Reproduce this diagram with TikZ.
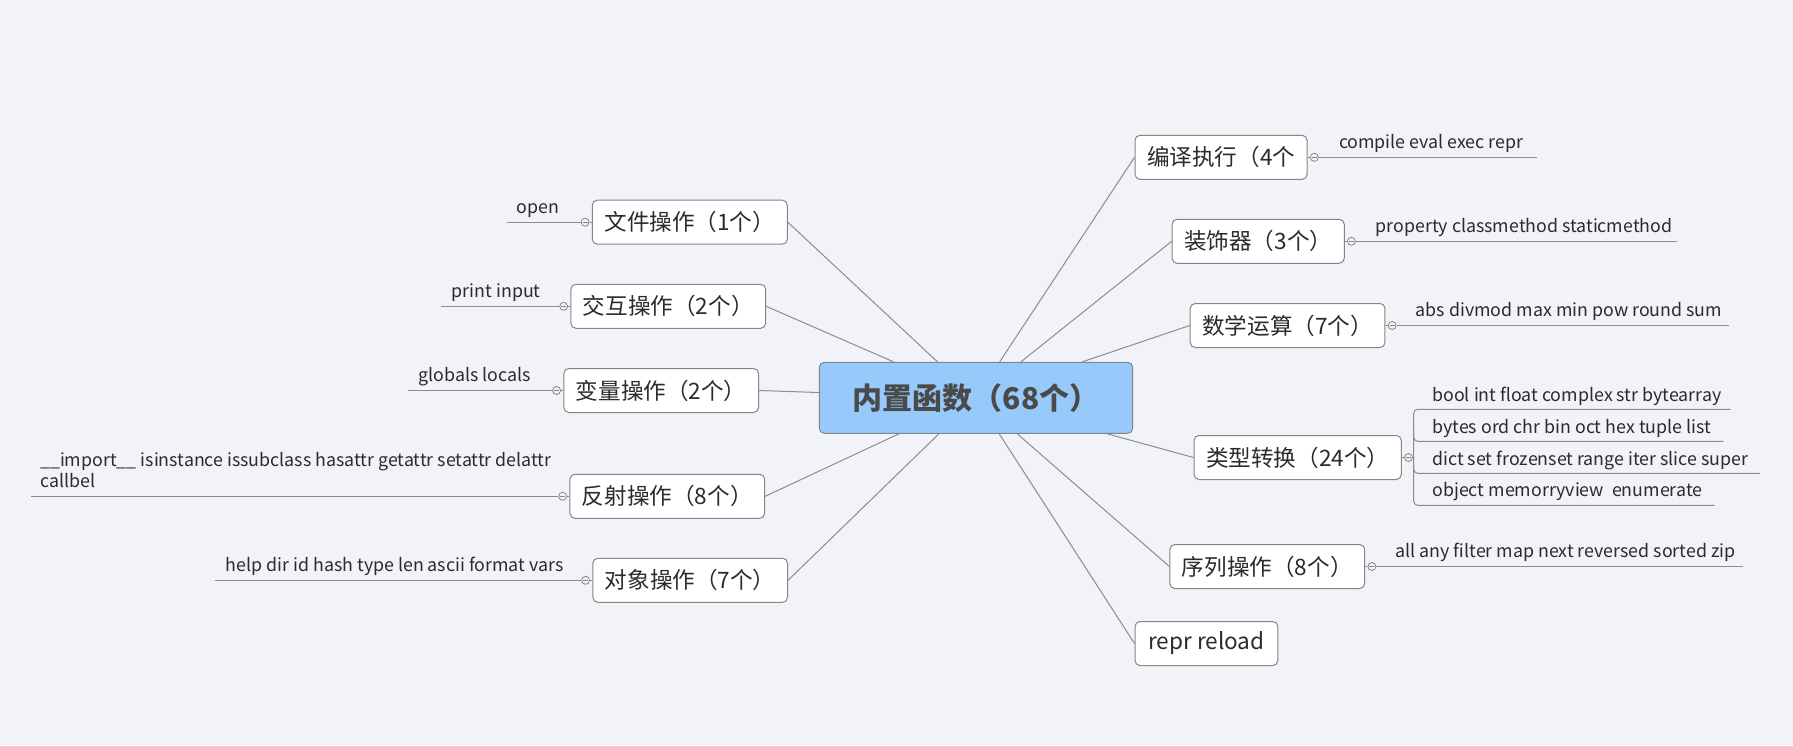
\documentclass[tikz,border=0pt]{standalone}
\usepackage{fontspec}
\setmainfont{Noto Sans CJK SC}
\definecolor{bg}{HTML}{F2F3F8}
\definecolor{edge}{HTML}{8C8C8C}
\definecolor{frame}{HTML}{858585}
\definecolor{hubfill}{HTML}{97C9FB}
\definecolor{ink}{HTML}{2B2B2B}
\definecolor{hubink}{HTML}{4A4A4A}
\begin{document}
\begin{tikzpicture}[x=0.5pt,y=-0.5pt,
  hub/.style={draw=frame, fill=hubfill, rounded corners=2.5pt, line width=0.5pt,
    minimum width=156.7pt, minimum height=35.5pt, inner sep=0pt,
    font=\fontsize{15}{18}\selectfont\bfseries, text=hubink},
  topic/.style={draw=frame, fill=white, rounded corners=2.5pt, line width=0.5pt,
    minimum height=22pt, inner xsep=6pt, inner ysep=0pt, anchor=west,
    font=\fontsize{11.3}{13}\selectfont, text=ink},
  leaf/.style={anchor=base west, inner sep=0pt, text=ink,
    font=\fontsize{8.9}{10.6}\selectfont},
  knob/.style={circle, draw=frame, fill=bg, line width=0.4pt, minimum size=4pt,
    inner sep=0pt,
    path picture={\draw[frame, line width=0.4pt]
      ([xshift=-1.3pt]path picture bounding box.center) --
      ([xshift=1.3pt]path picture bounding box.center);}},
  link/.style={draw=edge, line width=0.5pt}
]
\fill[bg] (0,0) rectangle (1793,745);
\useasboundingbox (0,0) rectangle (1793,745);

% central topic
\node[hub] (hub) at (976,397.8) {内置函数（68个）};

% left branches
\node[topic, minimum width=97.5pt] (f1) at (591.8,222.2) {文件操作（1个）};
\node[topic, minimum width=96.7pt] (f2) at (570.4,306.3) {交互操作（2个）};
\node[topic, minimum width=97.2pt] (f3) at (563.3,390.5) {变量操作（2个）};
\node[topic, minimum width=97pt]   (f4) at (569.4,496.3) {反射操作（8个）};
\node[topic, minimum width=97.2pt] (f5) at (592.3,580.3) {对象操作（7个）};

% right branches
\node[topic, minimum width=86pt]   (g1) at (1134.5,157.3) {编译执行（4个};
\node[topic, minimum width=86pt]   (g2) at (1171.6,241.3) {装饰器（3个）};
\node[topic, minimum width=96.8pt] (g3) at (1189.7,325.5) {数学运算（7个）};
\node[topic, minimum width=103.5pt](g4) at (1193.5,457.5) {类型转换（24个）};
\node[topic, minimum width=97pt]   (g5) at (1169.4,566.5) {序列操作（8个）};
\node[topic, minimum width=71.4pt] (g6) at (1134.5,643.5) {repr reload};

% branch connectors
\foreach \n in {f1,f2,f3,f4,f5} \draw[link] (\n.east) -- (hub);
\foreach \n in {g1,g2,g3,g4,g5,g6} \draw[link] (\n.west) -- (hub);

% collapse knobs
\foreach \n in {f1,f2,f3,f4,f5} \node[knob] (k\n) at ([xshift=-3.35pt]\n.west) {};
\foreach \n in {g1,g2,g3,g4,g5} \node[knob] (k\n) at ([xshift=3.35pt]\n.east) {};

% free ends of leaf underlines
\coordinate (ef1) at (506.6,222.2);
\coordinate (ef2) at (441,306.3);
\coordinate (ef3) at (408,390.5);
\coordinate (ef4) at (30.6,496.3);
\coordinate (ef5) at (215.3,580.3);
\coordinate (eg1) at (1536.6,157.3);
\coordinate (eg2) at (1676.7,241.3);
\coordinate (eg3) at (1728.8,325.5);
\coordinate (eg5) at (1743.4,566.5);

\foreach \n in {f1,f2,f3,f4,f5} \draw[link] (\n.west) -- (k\n) (k\n.west) -- (e\n);
\foreach \n in {g1,g2,g3,g5} \draw[link] (\n.east) -- (k\n) (k\n.east) -- (e\n);
\draw[link] (g4.east) -- (kg4);

% leaf texts
\node[leaf] (tf1) at (516,213) {open};
\node[leaf] (tf2) at (451.5,297.7) {print input};
\node[leaf] (tf3) at (418,381.7) {globals locals};
\node[leaf, align=left] (tf4) at (39.8,487.3) {\_\_import\_\_ isinstance issubclass hasattr getattr setattr delattr\\callbel};
\node[leaf] (tf5) at (225.5,571.7) {help dir id hash type len ascii format vars};
\node[leaf] (tg1) at (1338.6,148.3) {compile eval exec repr};
\node[leaf] (tg2) at (1375.3,232.7) {property classmethod staticmethod};
\node[leaf] (tg3) at (1415.5,316.7) {abs divmod max min pow round sum};
\node[leaf] (tg5) at (1395.2,557.7) {all any filter map next reversed sorted zip};

% type conversion: bracket with four leaves
\coordinate (bt) at (1413.7,409.3);
\coordinate (bb) at (1413.7,505.3);
\coordinate (bm) at (1413.7,457.5);
\coordinate (u1) at (1730.7,409.3);
\coordinate (u2) at (1723.3,441.3);
\coordinate (u3) at (1759.8,473.3);
\coordinate (u4) at (1714.7,505.3);
\draw[link] (kg4.east) -- (bm);
\draw[link, rounded corners=2pt] (u1) -- (bt) -- (bb) -- (u4);
\draw[link, rounded corners=2pt] ([yshift=5pt]bt |- u2) |- (u2);
\draw[link, rounded corners=2pt] ([yshift=5pt]bt |- u3) |- (u3);
\node[leaf] (th1) at (1432,401.7) {bool int float complex str bytearray};
\node[leaf] (th2) at (1432,433.3) {bytes ord chr bin oct hex tuple list};
\node[leaf] (th3) at (1432,465) {dict set frozenset range iter slice super};
\node[leaf] (th4) at (1432,496.7) {object memorryview\ \ enumerate};
\end{tikzpicture}
\end{document}
